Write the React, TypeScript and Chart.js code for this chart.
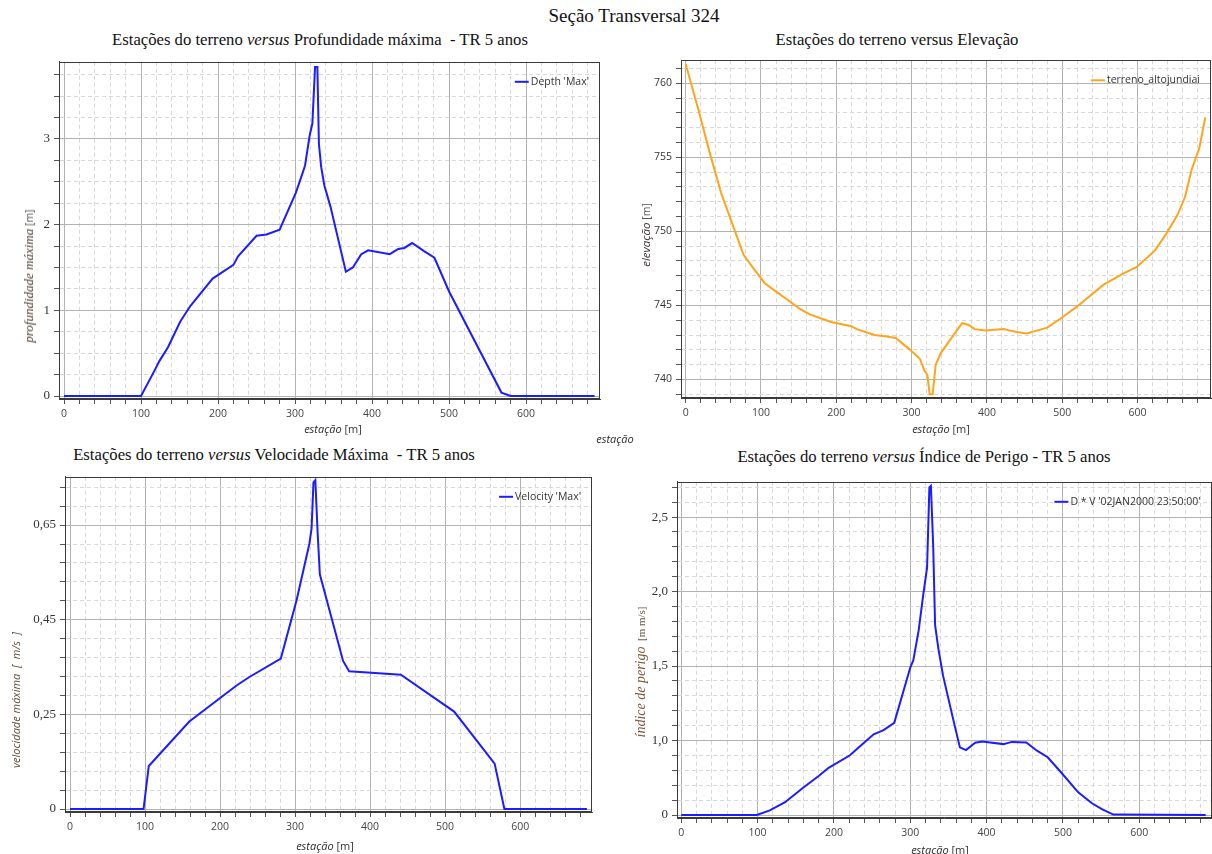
import React, { useEffect, useRef } from "react";
import { Chart, registerables } from "chart.js";

Chart.register(...registerables);

// ---------- Data (station in m) ----------
const depthStations = [0, 100, 116, 124, 135, 151, 164, 193, 220, 226, 250, 263, 280, 301, 309, 313, 319, 322.5, 326, 329, 331, 334, 338, 346, 366, 375, 386, 395, 423, 434, 442, 452, 467, 481, 500, 568, 580, 689];
const depthValues = [0, 0, 0.27, 0.41, 0.57, 0.87, 1.05, 1.37, 1.53, 1.63, 1.87, 1.885, 1.94, 2.37, 2.58, 2.69, 3.04, 3.18, 3.84, 3.84, 2.94, 2.67, 2.46, 2.21, 1.45, 1.5, 1.655, 1.7, 1.655, 1.716, 1.728, 1.785, 1.693, 1.613, 1.22, 0.04, 0, 0];

const elevStations = [0, 17, 32, 47, 77, 90, 105, 121, 132, 152, 165, 192, 201, 220, 227, 251, 267, 279, 298, 311, 317, 321, 324, 328, 332, 339, 367, 375, 384, 398, 422, 431, 440, 453, 466, 480, 499, 519, 555, 579, 599, 623, 639, 653, 663, 672, 682, 690];
const elevValues = [761.3, 758.2, 755.3, 752.6, 748.4, 747.5, 746.5, 745.9, 745.5, 744.75, 744.4, 743.9, 743.8, 743.6, 743.4, 743.0, 742.9, 742.8, 742.0, 741.4, 740.6, 740.3, 739.0, 739.0, 741.0, 741.8, 743.8, 743.7, 743.4, 743.3, 743.4, 743.3, 743.2, 743.1, 743.3, 743.5, 744.15, 744.9, 746.4, 747.1, 747.6, 748.7, 749.9, 751.1, 752.3, 754.2, 755.6, 757.7];

const velStations = [0, 98, 105, 159, 222, 238, 281, 302, 319, 322, 324.5, 327, 330, 333, 364, 372, 441, 512, 566, 579, 689];
const velValues = [0, 0, 0.091, 0.185, 0.261, 0.278, 0.318, 0.441, 0.56, 0.593, 0.69, 0.695, 0.586, 0.496, 0.313, 0.291, 0.284, 0.206, 0.096, 0, 0];

const hazStations = [0, 99, 116, 136, 160, 180, 193, 221, 229, 252, 265, 279, 300, 304, 311, 317, 322, 325, 327, 330, 332.5, 337, 343, 356, 365, 373, 385, 394, 422, 433, 452, 466, 480, 498, 520, 538, 551, 566, 687];
const hazValues = [0, 0, 0.031, 0.086, 0.185, 0.262, 0.317, 0.401, 0.438, 0.542, 0.57, 0.619, 0.99, 1.04, 1.24, 1.48, 1.66, 2.2, 2.21, 1.81, 1.275, 1.11, 0.934, 0.647, 0.454, 0.436, 0.485, 0.493, 0.476, 0.491, 0.487, 0.432, 0.388, 0.284, 0.152, 0.079, 0.04, 0.003, 0];

// ---------- Tick labels ----------
const xTickValues = [0, 100, 200, 300, 400, 500, 600];
const xTickLabels = ["0", "100", "200", "300", "400", "500", "600"];
const depthTickValues = [0, 1, 2, 3];
const depthTickLabels = ["0", "1", "2", "3"];
const elevTickValues = [740, 745, 750, 755, 760];
const elevTickLabels = ["740", "745", "750", "755", "760"];
const velTickValues = [0, 0.2, 0.4, 0.6];
const velTickLabels = ["0", "0,25", "0,45", "0,65"];
const hazTickValues = [0, 0.5, 1.0, 1.5, 2.0];
const hazTickLabels = ["0", "1,0", "1,5", "2,0", "2,5"];

const BLUE = "#1c1cff";
const ORANGE = "#ffa41c";
const SANS = '"Open Sans", "Noto Sans", sans-serif';
const SERIF = '"Liberation Serif", "Times New Roman", serif';

function tickRange(min: number, max: number, step: number) {
  const out: number[] = [];
  const i0 = Math.ceil(min / step - 1e-9);
  const i1 = Math.floor(max / step + 1e-9);
  for (let i = i0; i <= i1; i++) out.push(+(i * step).toFixed(6));
  return out;
}
const isMajor = (v: number, major: number) => Math.abs(v / major - Math.round(v / major)) < 1e-6;
const lookup = (v: number, vals: number[], labels: string[]) => {
  const i = vals.findIndex((t) => Math.abs(t - v) < 1e-6);
  return i >= 0 ? labels[i] : "";
};

type Panel = {
  left: number; top: number; width: number; height: number;
  plot: { left: number; top: number; right: number; bottom: number };
  xs: number[]; ys: number[]; color: string; label: string;
  xMin: number; xMax: number; yMin: number; yMax: number;
  yStep: number; yMajor: number; yVals: number[]; yLabels: string[];
  yFont: { family: string; size: number };
};

const decorPlugin = {
  id: "decor",
  afterDraw(chart: any) {
    const { ctx, chartArea: a } = chart;
    ctx.save();
    ctx.strokeStyle = "#3a3a3a";
    ctx.lineWidth = 1;
    ctx.strokeRect(Math.round(a.left) + 0.5, Math.round(a.top) + 0.5, Math.round(a.right - a.left) - 1, Math.round(a.bottom - a.top) - 1);
    const ds = chart.data.datasets[0];
    ctx.font = `10.5px ${SANS}`;
    const tw = ctx.measureText(ds.label).width;
    const xr = a.right - 11;
    const y = a.top + 20;
    ctx.fillStyle = "#333";
    ctx.textBaseline = "middle";
    ctx.textAlign = "left";
    ctx.fillText(ds.label, xr - tw, y);
    ctx.strokeStyle = ds.borderColor;
    ctx.lineWidth = 2;
    ctx.beginPath();
    ctx.moveTo(xr - tw - 16, y);
    ctx.lineTo(xr - tw - 2, y);
    ctx.stroke();
    ctx.restore();
  },
};

function makeConfig(p: Panel): any {
  const yW = p.plot.left - p.left;
  const xH = p.top + p.height - p.plot.bottom;
  const gridColor = (major: number) => (c: any) => (c.tick && isMajor(c.tick.value, major) ? "#b2b2b2" : "#d8d8d8");
  const gridDash = (major: number) => (c: any) => (c.tick && !isMajor(c.tick.value, major) ? [4, 3] : []);
  return {
    type: "line",
    data: {
      datasets: [
        {
          label: p.label,
          data: p.xs.map((x, i) => ({ x, y: p.ys[i] })),
          borderColor: p.color,
          backgroundColor: p.color,
          borderWidth: 2,
          pointRadius: 0,
          tension: 0,
          fill: false,
        },
      ],
    },
    options: {
      animation: false,
      responsive: false,
      maintainAspectRatio: false,
      layout: { padding: { left: 0, top: p.plot.top - p.top, right: p.left + p.width - p.plot.right, bottom: 0 } },
      plugins: { legend: { display: false }, tooltip: { enabled: false }, title: { display: false } },
      scales: {
        x: {
          type: "linear",
          min: p.xMin,
          max: p.xMax,
          bounds: "data",
          afterBuildTicks: (s: any) => {
            s.ticks = tickRange(p.xMin, p.xMax, 20).map((v) => ({ value: v }));
          },
          afterFit: (s: any) => {
            s.height = xH;
          },
          grid: { color: gridColor(100), lineWidth: 1, drawTicks: true, tickLength: 5, tickColor: "#555", tickWidth: 1 },
          border: { display: true, color: "#3a3a3a", width: 1, dash: gridDash(100) },
          ticks: {
            autoSkip: false,
            maxRotation: 0,
            minRotation: 0,
            padding: 4,
            color: "#444",
            font: { family: SANS, size: 10.5 },
            callback: (v: number) => lookup(v, xTickValues, xTickLabels),
          },
        },
        y: {
          type: "linear",
          min: p.yMin,
          max: p.yMax,
          bounds: "data",
          afterBuildTicks: (s: any) => {
            s.ticks = tickRange(p.yMin, p.yMax, p.yStep).map((v) => ({ value: v }));
          },
          afterFit: (s: any) => {
            s.width = yW;
          },
          grid: { color: gridColor(p.yMajor), lineWidth: 1, drawTicks: true, tickLength: 5, tickColor: "#555", tickWidth: 1 },
          border: { display: true, color: "#3a3a3a", width: 1, dash: gridDash(p.yMajor) },
          ticks: {
            autoSkip: false,
            padding: 4,
            color: "#333",
            font: p.yFont,
            callback: (v: number) => lookup(v, p.yVals, p.yLabels),
          },
        },
      },
    },
    plugins: [decorPlugin],
  };
}

const panels: Panel[] = [
  {
    left: 0, top: 50, width: 610, height: 375,
    plot: { left: 59, top: 57, right: 600, bottom: 399 },
    xs: depthStations, ys: depthValues, color: BLUE, label: "Depth 'Max'",
    xMin: -6.5, xMax: 696, yMin: -0.035, yMax: 3.9,
    yStep: 0.25, yMajor: 1, yVals: depthTickValues, yLabels: depthTickLabels,
    yFont: { family: SERIF, size: 13 },
  },
  {
    left: 620, top: 50, width: 592, height: 375,
    plot: { left: 681, top: 56, right: 1211, bottom: 398 },
    xs: elevStations, ys: elevValues, color: ORANGE, label: "terreno_altojundiai",
    xMin: -6.2, xMax: 697.6, yMin: 738.75, yMax: 761.55,
    yStep: 1, yMajor: 5, yVals: elevTickValues, yLabels: elevTickLabels,
    yFont: { family: SANS, size: 10.5 },
  },
  {
    left: 0, top: 465, width: 605, height: 375,
    plot: { left: 65, top: 471, right: 592, bottom: 812 },
    xs: velStations, ys: velValues, color: BLUE, label: "Velocity 'Max'",
    xMin: -6.7, xMax: 695.8, yMin: -0.0062, yMax: 0.702,
    yStep: 0.04, yMajor: 0.2, yVals: velTickValues, yLabels: velTickLabels,
    yFont: { family: SERIF, size: 13 },
  },
  {
    left: 615, top: 470, width: 597, height: 375,
    plot: { left: 677, top: 476, right: 1211.5, bottom: 818 },
    xs: hazStations, ys: hazValues, color: BLUE, label: "D * V '02JAN2000 23:50:00'",
    xMin: -5.6, xMax: 694.6, yMin: -0.02, yMax: 2.237,
    yStep: 0.1, yMajor: 0.5, yVals: hazTickValues, yLabels: hazTickLabels,
    yFont: { family: SERIF, size: 13 },
  },
];

function PanelChart({ p }: { p: Panel }) {
  const ref = useRef<HTMLCanvasElement | null>(null);
  useEffect(() => {
    if (!ref.current) return;
    const chart = new Chart(ref.current, makeConfig(p));
    return () => chart.destroy();
  }, []);
  return (
    <canvas
      ref={ref}
      width={p.width}
      height={p.height}
      style={{ position: "absolute", left: p.left, top: p.top, width: p.width, height: p.height }}
    />
  );
}

function Label({ x, y, rotate, children, style }: any) {
  return (
    <div
      style={{
        position: "absolute",
        left: x,
        top: y,
        transform: `translate(-50%, -50%)${rotate ? " rotate(-90deg)" : ""}`,
        whiteSpace: "pre",
        lineHeight: 1,
        ...style,
      }}
    >
      {children}
    </div>
  );
}

const titleStyle = { fontFamily: SERIF, fontSize: 16.7, color: "#111" };
const xTitleStyle = { fontFamily: SANS, fontSize: 11, color: "#333" };

function XTitle({ x, y }: { x: number; y: number }) {
  return (
    <Label x={x} y={y} style={xTitleStyle}>
      <i style={{ color: "#2a2a2a" }}>estação</i> [m]
    </Label>
  );
}

export default function App() {
  return (
    <div style={{ position: "absolute", left: 0, top: 0, width: 1212, height: 854, background: "#fff", overflow: "hidden" }}>
      {panels.map((p, i) => (
        <PanelChart key={i} p={p} />
      ))}
      <Label x={634} y={15} style={{ fontFamily: SERIF, fontSize: 19, color: "#111" }}>Seção Transversal 324</Label>
      <Label x={320} y={40} style={titleStyle}>
        Estações do terreno <i>versus</i> Profundidade máxima  - TR 5 anos
      </Label>
      <Label x={897} y={40} style={titleStyle}>Estações do terreno versus Elevação</Label>
      <Label x={274} y={455} style={titleStyle}>
        Estações do terreno <i>versus</i> Velocidade Máxima  - TR 5 anos
      </Label>
      <Label x={924} y={457} style={titleStyle}>
        Estações do terreno <i>versus</i> Índice de Perigo - TR 5 anos
      </Label>

      <XTitle x={333} y={428} />
      <XTitle x={941} y={428} />
      <XTitle x={325} y={845} />
      <XTitle x={940} y={849} />
      <Label x={615} y={438} style={xTitleStyle}>
        <i style={{ color: "#2a2a2a" }}>estação</i>
      </Label>

      <Label x={28} y={276} rotate style={{ color: "#4a3a2a" }}>
        <i style={{ fontFamily: SERIF, fontSize: 13 }}>profundidade máxima</i>
        <span style={{ fontFamily: SANS, fontSize: 10.5, color: "#555" }}> [m]</span>
      </Label>
      <Label x={645} y={235} rotate style={{ color: "#3a3030" }}>
        <i style={{ fontFamily: SANS, fontSize: 11.5 }}>elevação</i>
        <span style={{ fontFamily: SANS, fontSize: 10.5, color: "#555" }}> [m]</span>
      </Label>
      <Label x={15} y={700} rotate style={{ color: "#5a4a3a" }}>
        <i style={{ fontFamily: SANS, fontSize: 11 }}>velocidade máxima  [  m/s  ]</i>
      </Label>
      <Label x={640} y={672} rotate style={{ color: "#7a5a3a" }}>
        <i style={{ fontFamily: SERIF, fontSize: 14 }}>índice de perigo</i>
        <span style={{ fontFamily: SERIF, fontSize: 11, color: "#6a5a4a" }}>  [m m/s]</span>
      </Label>
    </div>
  );
}
